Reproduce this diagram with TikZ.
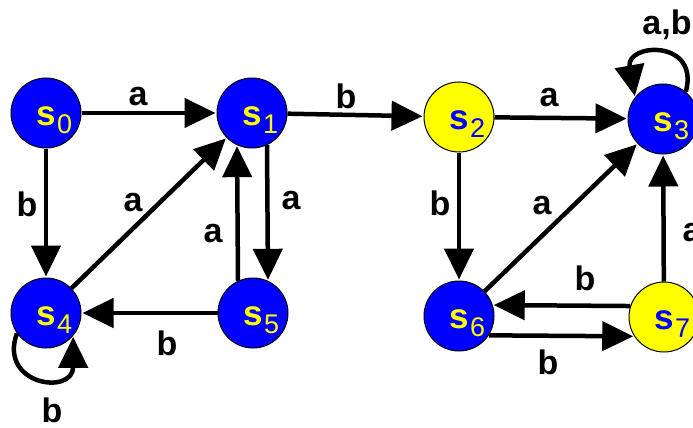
\documentclass[tikz,border=0pt]{standalone}
\usepackage{fontspec}
\setmainfont{Liberation Sans}
\usetikzlibrary{arrows.meta}
\definecolor{stateblue}{RGB}{0,0,255}
\definecolor{stateyellow}{RGB}{255,255,0}
% subscript digit hung to the right of the "s", without affecting the node size
\newcommand\stsub[1]{\rlap{\hspace{1.5pt}\smash{\raisebox{-8pt}{\mdseries\fontsize{27}{27}\selectfont #1}}}}
\begin{document}
\begin{tikzpicture}[x=1pt,y=1pt,
  state/.style={circle, draw=black, line width=1pt, minimum size=70pt, inner sep=0pt,
    text height=24pt, text depth=0pt,
    font=\bfseries\fontsize{35}{35}\selectfont},
  bluestate/.style={state, fill=stateblue, text=stateyellow},
  yellowstate/.style={state, fill=stateyellow, text=stateblue},
  trans/.style={line width=4.5pt, -{Triangle[length=31pt,width=29pt]}, shorten >=1pt},
  lbl/.style={font=\bfseries\fontsize{34}{34}\selectfont, inner sep=0pt}]
\useasboundingbox (0,0) rectangle (693,-428);
\clip (0,0) rectangle (693,-428);

% states
\node[bluestate]   (s0) at (46,-113)  {s\stsub{0}};
\node[bluestate]   (s1) at (252,-113) {s\stsub{1}};
\node[yellowstate] (s2) at (459,-117) {s\stsub{2}};
\node[bluestate]   (s3) at (663,-119) {s\stsub{3}};
\node[bluestate]   (s4) at (46,-313)  {s\stsub{4}};
\node[bluestate]   (s5) at (253,-313) {s\stsub{5}};
\node[bluestate]   (s6) at (459,-316) {s\stsub{6}};
\node[yellowstate] (s7) at (664,-317) {s\stsub{7}};

% transitions
\draw[trans] (s0) -- (s1);
\draw[trans] (s1) -- (s2);
\draw[trans] (s2) -- (s3);
\draw[trans] (s0) -- (s4);
\draw[trans] (s4) -- (s1);
\draw[trans] (s1.-65) -- (s5.65);
\draw[trans] (s5.115) -- (s1.-115);
\draw[trans] (s5) -- (s4);
\draw[trans] (s2) -- (s6);
\draw[trans] (s6) -- (s3);
\draw[trans] (s7) -- (s3);
\draw[trans] (s7.162) -- (s6.18);
\draw[trans] (s6.-33) -- (s7.-147);
\draw[trans] (s4.215) .. controls +(250:55) and +(-90:60) .. (s4.-40);
\draw[trans] (s3.50) .. controls +(75:55) and +(100:55) .. (s3.142);

% transition labels
\node[lbl] (l01) at (138,-97)  {a};
\node[lbl] (l04) at (27,-204)  {b};
\node[lbl] (l41) at (133,-203) {a};
\node[lbl] (l15) at (291,-201) {a};
\node[lbl] (l51) at (213,-234) {a};
\node[lbl] (l54) at (167,-343) {b};
\node[lbl] (l44) at (52,-410)  {b};
\node[lbl] (l12) at (346,-96)  {b};
\node[lbl] (l23) at (549,-98)  {a};
\node[lbl] (l33) at (667,-25)  {a,b};
\node[lbl] (l26) at (440,-203) {b};
\node[lbl] (l63) at (542,-206) {a};
\node[lbl] (l73) at (692,-233) {a};
\node[lbl] (l76) at (585,-278) {b};
\node[lbl] (l67) at (548,-362) {b};
\end{tikzpicture}
\end{document}
